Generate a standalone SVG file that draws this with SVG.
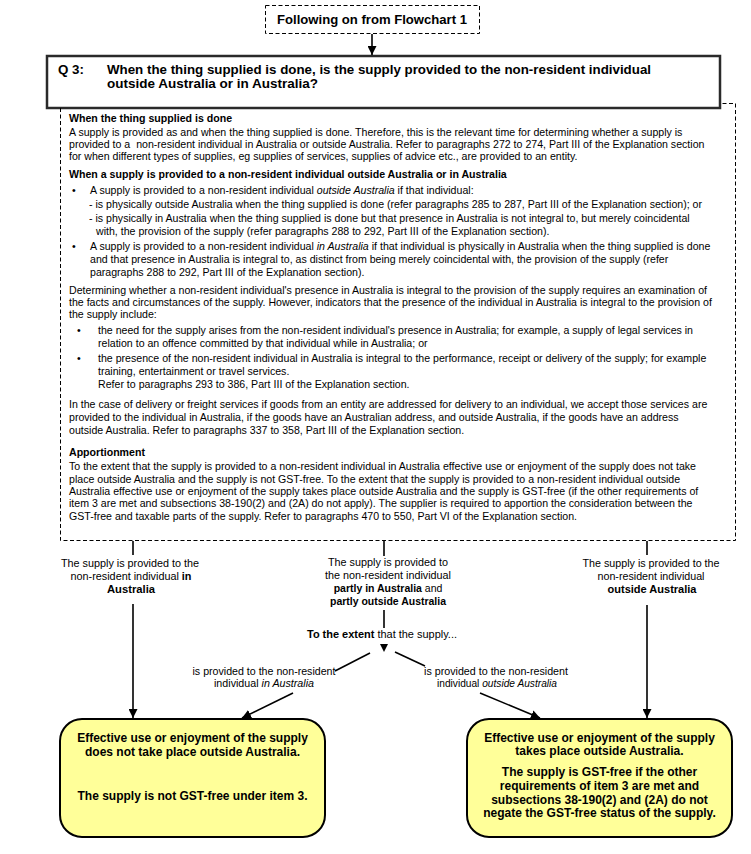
<svg xmlns="http://www.w3.org/2000/svg" width="751" height="854" viewBox="0 0 751 854">
<defs>
<marker id="ah" markerUnits="userSpaceOnUse" markerWidth="9" markerHeight="9" refX="9" refY="4.5" orient="auto" viewBox="0 0 9 9"><path d="M0,0 L9,4.5 L0,9 z" fill="#000"/></marker>
<style>
.dash{fill:none;stroke:#000;stroke-width:1;stroke-dasharray:4 2.5}
.con{fill:none;stroke:#000;stroke-width:1.6}
.hd{font-family:"Liberation Sans Narrow","Liberation Sans",Arial,sans-serif;font-weight:bold;font-size:13px;fill:#000}
.body{font-family:"Liberation Sans",Arial,sans-serif;font-size:10.6px;fill:#000;white-space:pre}
.bb{font-weight:bold}
.lbl{font-family:"Liberation Sans Narrow","Liberation Sans",Arial,sans-serif;font-size:10.5px;fill:#000;text-anchor:middle}
.res{fill:#FFFF99;stroke:#000;stroke-width:2}
.rt{font-family:"Liberation Sans",Arial,sans-serif;font-weight:bold;font-size:12px;fill:#000;text-anchor:middle}
</style>
</defs>
<rect width="751" height="854" fill="#fff"/>

<g id="top-box">
<rect class="dash" x="265.5" y="5.5" width="214" height="28"/>
<text class="hd" x="372" y="24" text-anchor="middle" textLength="190" lengthAdjust="spacingAndGlyphs">Following on from Flowchart 1</text>
</g>

<g id="q3-box">
<rect x="47" y="56" width="673" height="52" fill="#fff" stroke="#2a2a2a" stroke-width="2.5"/>
<text class="hd" x="58" y="74" textLength="26" lengthAdjust="spacingAndGlyphs">Q 3:</text>
<text class="hd" x="107" y="74" textLength="544" lengthAdjust="spacingAndGlyphs">When the thing supplied is done, is the supply provided to the non-resident individual</text>
<text class="hd" x="107" y="88" textLength="211" lengthAdjust="spacingAndGlyphs">outside Australia or in Australia?</text>
</g>

<g id="info-box">
<path class="dash" d="M60.5,108 V540.5 H735.5 V103.5 H720"/>
<text class="body bb" x="69" y="122">When the thing supplied is done</text>
<text class="body" x="69" y="136">A supply is provided as and when the thing supplied is done. Therefore, this is the relevant time for determining whether a supply is</text>
<text class="body" x="69" y="148">provided to a  non-resident individual in Australia or outside Australia. Refer to paragraphs 272 to 274, Part III of the Explanation section</text>
<text class="body" x="69" y="160">for when different types of supplies, eg supplies of services, supplies of advice etc., are provided to an entity.</text>
<text class="body bb" x="69" y="178">When a supply is provided to a non-resident individual outside Australia or in Australia</text>
<text class="body" x="72" y="194">•</text>
<text class="body" x="90" y="194">A supply is provided to a non-resident individual <tspan font-style="italic">outside Australia</tspan> if that individual:</text>
<text class="body" x="89" y="208">- is physically outside Australia when the thing supplied is done (refer paragraphs 285 to 287, Part III of the Explanation section); or</text>
<text class="body" x="89" y="222">- is physically in Australia when the thing supplied is done but that presence in Australia is not integral to, but merely coincidental</text>
<text class="body" x="96" y="235">with, the provision of the supply (refer paragraphs 288 to 292, Part III of the Explanation section).</text>
<text class="body" x="72" y="250">•</text>
<text class="body" x="90" y="250">A supply is provided to a non-resident individual <tspan font-style="italic">in Australia</tspan> if that individual is physically in Australia when the thing supplied is done</text>
<text class="body" x="90" y="263">and that presence in Australia is integral to, as distinct from being merely coincidental with, the provision of the supply (refer</text>
<text class="body" x="90" y="276">paragraphs 288 to 292, Part III of the Explanation section).</text>
<text class="body" x="69" y="294">Determining whether a non-resident individual's presence in Australia is integral to the provision of the supply requires an examination of</text>
<text class="body" x="69" y="306">the facts and circumstances of the supply. However, indicators that the presence of the individual in Australia is integral to the provision of</text>
<text class="body" x="69" y="318">the supply include:</text>
<text class="body" x="77" y="334">•</text>
<text class="body" x="98" y="334">the need for the supply arises from the non-resident individual's presence in Australia; for example, a supply of legal services in</text>
<text class="body" x="98" y="347">relation to an offence committed by that individual while in Australia; or</text>
<text class="body" x="77" y="362">•</text>
<text class="body" x="98" y="362">the presence of the non-resident individual in Australia is integral to the performance, receipt or delivery of the supply; for example</text>
<text class="body" x="98" y="375">training, entertainment or travel services.</text>
<text class="body" x="98" y="388">Refer to paragraphs 293 to 386, Part III of the Explanation section.</text>
<text class="body" x="69" y="408">In the case of delivery or freight services if goods from an entity are addressed for delivery to an individual, we accept those services are</text>
<text class="body" x="69" y="421">provided to the individual in Australia, if the goods have an Australian address, and outside Australia, if the goods have an address</text>
<text class="body" x="69" y="434">outside Australia. Refer to paragraphs 337 to 358, Part III of the Explanation section.</text>
<text class="body bb" x="69" y="456">Apportionment</text>
<text class="body" x="69" y="470">To the extent that the supply is provided to a non-resident individual in Australia effective use or enjoyment of the supply does not take</text>
<text class="body" x="69" y="483">place outside Australia and the supply is not GST-free. To the extent that the supply is provided to a non-resident individual outside</text>
<text class="body" x="69" y="495">Australia effective use or enjoyment of the supply takes place outside Australia and the supply is GST-free (if the other requirements of</text>
<text class="body" x="69" y="507">item 3 are met and subsections 38-190(2) and (2A) do not apply). The supplier is required to apportion the consideration between the</text>
<text class="body" x="69" y="520">GST-free and taxable parts of the supply. Refer to paragraphs 470 to 550, Part VI of the Explanation section.</text>
</g>

<g id="label-in">
<text class="lbl" x="130" y="567" textLength="138" lengthAdjust="spacingAndGlyphs">The supply is provided to the</text>
<text class="lbl" x="131" y="580" textLength="121" lengthAdjust="spacingAndGlyphs">non-resident individual <tspan font-weight="bold">in</tspan></text>
<text class="lbl" x="131" y="593" font-weight="bold" textLength="48" lengthAdjust="spacingAndGlyphs">Australia</text>
</g>

<g id="label-partly">
<text class="lbl" x="388" y="566" textLength="120" lengthAdjust="spacingAndGlyphs">The supply is provided to</text>
<text class="lbl" x="388" y="579" textLength="126" lengthAdjust="spacingAndGlyphs">the non-resident individual</text>
<text class="lbl" x="388" y="592"><tspan font-weight="bold">partly in Australia</tspan> and</text>
<text class="lbl" x="388" y="605" font-weight="bold" textLength="116" lengthAdjust="spacingAndGlyphs">partly outside Australia</text>
</g>

<g id="label-out">
<text class="lbl" x="651" y="567" textLength="137" lengthAdjust="spacingAndGlyphs">The supply is provided to the</text>
<text class="lbl" x="651" y="580" textLength="107" lengthAdjust="spacingAndGlyphs">non-resident individual</text>
<text class="lbl" x="652" y="593" font-weight="bold" textLength="89" lengthAdjust="spacingAndGlyphs">outside Australia</text>
</g>

<g id="label-extent">
<text class="lbl" x="382" y="638" textLength="150" lengthAdjust="spacingAndGlyphs"><tspan font-weight="bold">To the extent</tspan> that the supply...</text>
</g>

<g id="label-sub-in">
<text class="lbl" x="264" y="675" textLength="143" lengthAdjust="spacingAndGlyphs">is provided to the non-resident</text>
<text class="lbl" x="264" y="687" textLength="100" lengthAdjust="spacingAndGlyphs">individual <tspan font-style="italic">in Australia</tspan></text>
</g>

<g id="label-sub-out">
<text class="lbl" x="496" y="675" textLength="144" lengthAdjust="spacingAndGlyphs">is provided to the non-resident</text>
<text class="lbl" x="497" y="687" textLength="120" lengthAdjust="spacingAndGlyphs">individual <tspan font-style="italic">outside Australia</tspan></text>
</g>

<g id="result-in">
<rect class="res" x="60" y="719" width="265" height="118" rx="22" ry="22"/>
<text class="rt" x="192.5" y="742">Effective use or enjoyment of the supply</text>
<text class="rt" x="192.5" y="756">does not take place outside Australia.</text>
<text class="rt" x="192.5" y="800">The supply is not GST-free under item 3.</text>
</g>

<g id="result-out">
<rect class="res" x="467" y="719" width="265" height="118" rx="22" ry="22"/>
<text class="rt" x="599.5" y="742">Effective use or enjoyment of the supply</text>
<text class="rt" x="599.5" y="755">takes place outside Australia.</text>
<text class="rt" x="599.5" y="776">The supply is GST-free if the other</text>
<text class="rt" x="599.5" y="790">requirements of item 3 are met and</text>
<text class="rt" x="599.5" y="804">subsections 38-190(2) and (2A) do not</text>
<text class="rt" x="599.5" y="817">negate the GST-free status of the supply.</text>
</g>

<g id="connectors">
<line class="con" x1="372" y1="34" x2="372" y2="55" marker-end="url(#ah)"/>
<line class="con" x1="133" y1="541" x2="133" y2="555"/>
<line class="con" x1="133" y1="604" x2="133" y2="718" marker-end="url(#ah)"/>
<line class="con" x1="384" y1="541" x2="384" y2="556"/>
<line class="con" x1="384" y1="610" x2="384" y2="628"/>
<polygon points="380,644 388,644 384,652" fill="#000"/>
<line class="con" x1="647" y1="541" x2="647" y2="555"/>
<line class="con" x1="647" y1="605" x2="647" y2="718" marker-end="url(#ah)"/>
<line class="con" x1="370" y1="653" x2="335" y2="671"/>
<line class="con" x1="293" y1="693" x2="242" y2="718" marker-end="url(#ah)"/>
<line class="con" x1="395" y1="652" x2="425" y2="666"/>
<line class="con" x1="480" y1="693" x2="540" y2="718" marker-end="url(#ah)"/>
</g>
</svg>
